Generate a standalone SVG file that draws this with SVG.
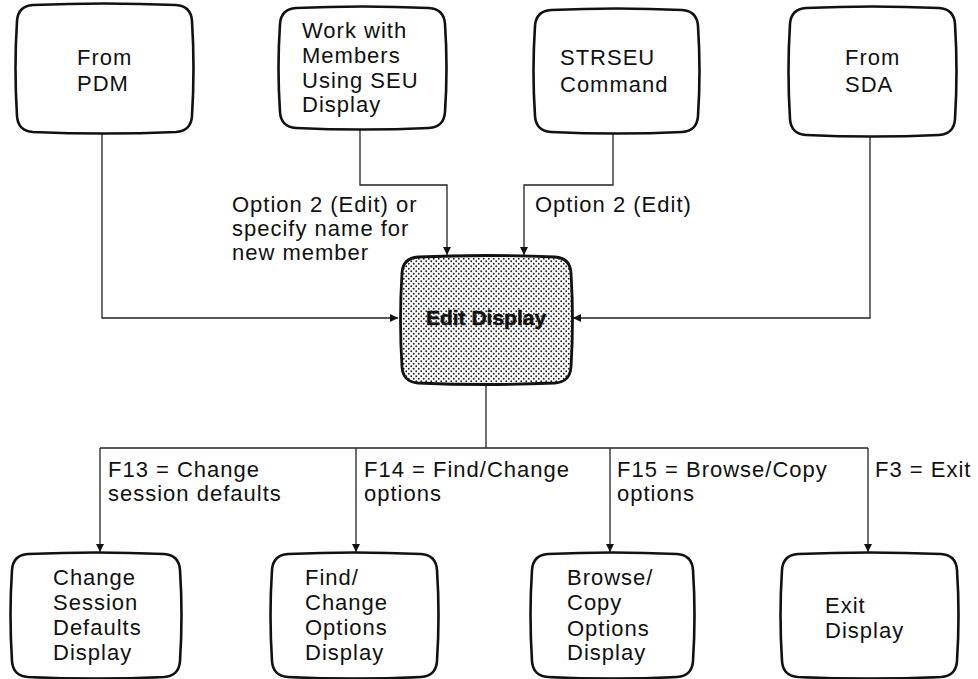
<svg xmlns="http://www.w3.org/2000/svg" width="978" height="679" viewBox="0 0 978 679">
<defs>
<style>
.box{fill:#fff;stroke:#111;stroke-width:2.6;stroke-linejoin:round}
.edit{fill:url(#dots);stroke:#111;stroke-width:2.8;stroke-linejoin:round}
.t{font-family:"Liberation Sans",Arial,sans-serif;font-size:22px;letter-spacing:1px;fill:#111}
.b{font-family:"Liberation Sans",Arial,sans-serif;font-size:21px;font-weight:bold;fill:#111;stroke:#111;stroke-width:0.5}
.c{fill:none;stroke:#222;stroke-width:1.3}
.a{marker-end:url(#arr)}
</style>
<pattern id="dots" width="5" height="5" patternUnits="userSpaceOnUse">
<rect width="5" height="5" fill="#fff"/>
<circle cx="1.25" cy="1.25" r="0.95" fill="#222"/>
<circle cx="3.75" cy="3.75" r="0.95" fill="#222"/>
</pattern>
<marker id="arr" viewBox="0 0 10 10" refX="10" refY="5" markerWidth="9" markerHeight="8" markerUnits="userSpaceOnUse" orient="auto">
<path d="M0,0 L10,5 L0,10 z" fill="#111"/>
</marker>
</defs>
<rect width="978" height="679" fill="#fff"/>

<g id="connectors">
<path class="c a" d="M102,132 V318 H398"/>
<path class="c a" d="M360,128 V185 H447 V255"/>
<path class="c a" d="M613,132 V185 H524 V255"/>
<path class="c a" d="M870,135 V318 H573"/>
<path class="c" d="M486,383 V448"/>
<path class="c" d="M100,448 H868"/>
<path class="c a" d="M100,448 V552"/>
<path class="c a" d="M356,448 V552"/>
<path class="c a" d="M610,448 V552"/>
<path class="c a" d="M868,448 V552"/>
</g>

<g id="labels">
<text class="t" x="232" y="212">Option 2 (Edit) or</text>
<text class="t" x="232" y="236">specify name for</text>
<text class="t" x="232" y="260">new member</text>
<text class="t" x="535" y="212">Option 2 (Edit)</text>
<text class="t" x="108" y="477">F13 = Change</text>
<text class="t" x="108" y="501">session defaults</text>
<text class="t" x="364" y="477">F14 = Find/Change</text>
<text class="t" x="364" y="501">options</text>
<text class="t" x="617" y="477">F15 = Browse/Copy</text>
<text class="t" x="617" y="501">options</text>
<text class="t" x="875" y="477">F3 = Exit</text>
</g>

<g id="from-pdm">
<path class="box" d="M33,5 Q104,2 176,5 Q191,6 192,21 Q195,68 192,116 Q191,131 176,132 Q104,135 33,132 Q18,131 17,116 Q14,68 17,21 Q18,6 33,5 Z"/>
<text class="t" x="77" y="65">From</text>
<text class="t" x="77" y="91">PDM</text>
</g>

<g id="work-with-members">
<path class="box" d="M296,8 Q362,5 429,8 Q444,9 445,24 Q448,68 445,112 Q444,127 429,128 Q362,131 296,128 Q281,127 280,112 Q277,68 280,24 Q281,9 296,8 Z"/>
<text class="t" x="302" y="38">Work with</text>
<text class="t" x="302" y="63">Members</text>
<text class="t" x="302" y="88">Using SEU</text>
<text class="t" x="302" y="112">Display</text>
</g>

<g id="strseu">
<path class="box" d="M551,10 Q617,7 682,10 Q697,11 698,26 Q701,71 698,116 Q697,131 682,132 Q617,135 551,132 Q536,131 535,116 Q532,71 535,26 Q536,11 551,10 Z"/>
<text class="t" x="560" y="65">STRSEU</text>
<text class="t" x="560" y="92">Command</text>
</g>

<g id="from-sda">
<path class="box" d="M806,8 Q872,5 939,8 Q954,9 955,24 Q958,71 955,119 Q954,134 939,135 Q872,138 806,135 Q791,134 790,119 Q787,71 790,24 Q791,9 806,8 Z"/>
<text class="t" x="845" y="65">From</text>
<text class="t" x="845" y="92">SDA</text>
</g>

<g id="edit-display">
<path class="edit" d="M418,257 Q486,254 555,257 Q570,258 571,273 Q574,320 571,367 Q570,382 555,383 Q486,386 418,383 Q403,382 402,367 Q399,320 402,273 Q403,258 418,257 Z"/>
<text class="b" x="486" y="325" text-anchor="middle">Edit Display</text>
</g>

<g id="change-session-defaults">
<path class="box" d="M28,554 Q96,551 164,554 Q179,555 180,570 Q183,615 180,661 Q179,676 164,677 Q96,680 28,677 Q13,676 12,661 Q9,615 12,570 Q13,555 28,554 Z"/>
<text class="t" x="53" y="585">Change</text>
<text class="t" x="53" y="610">Session</text>
<text class="t" x="53" y="635">Defaults</text>
<text class="t" x="53" y="660">Display</text>
</g>

<g id="find-change-options">
<path class="box" d="M288,554 Q354,551 421,554 Q436,555 437,570 Q440,615 437,661 Q436,676 421,677 Q354,680 288,677 Q273,676 272,661 Q269,615 272,570 Q273,555 288,554 Z"/>
<text class="t" x="305" y="585">Find/</text>
<text class="t" x="305" y="610">Change</text>
<text class="t" x="305" y="635">Options</text>
<text class="t" x="305" y="660">Display</text>
</g>

<g id="browse-copy-options">
<path class="box" d="M548,554 Q612,551 677,554 Q692,555 693,570 Q696,615 693,661 Q692,676 677,677 Q612,680 548,677 Q533,676 532,661 Q529,615 532,570 Q533,555 548,554 Z"/>
<text class="t" x="567" y="585">Browse/</text>
<text class="t" x="567" y="610">Copy</text>
<text class="t" x="567" y="636">Options</text>
<text class="t" x="567" y="660">Display</text>
</g>

<g id="exit-display">
<path class="box" d="M798,554 Q869,551 941,554 Q956,555 957,570 Q960,615 957,661 Q956,676 941,677 Q869,680 798,677 Q783,676 782,661 Q779,615 782,570 Q783,555 798,554 Z"/>
<text class="t" x="825" y="613">Exit</text>
<text class="t" x="825" y="638">Display</text>
</g>
</svg>
